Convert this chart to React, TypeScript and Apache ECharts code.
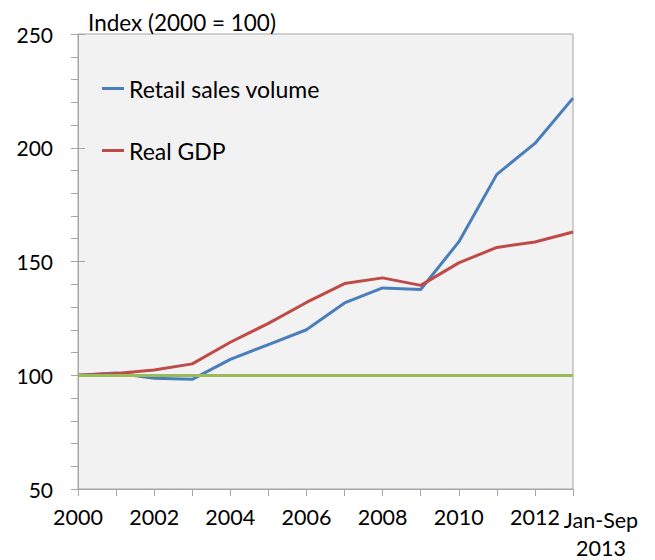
import React, { useEffect, useRef } from "react";
import * as echarts from "echarts";

const categories = ["2000", "2001", "2002", "2003", "2004", "2005", "2006", "2007", "2008", "2009", "2010", "2011", "2012", "Jan-Sep 2013"];
const retailSales = [100, 101, 98.7, 98.2, 107, 113.5, 120, 131.8, 138.4, 137.7, 158.6, 188.3, 201.9, 221.8];
const realGDP = [100, 100.8, 102.3, 105, 114.5, 122.8, 132, 140.3, 142.8, 139.5, 149.4, 156.2, 158.6, 163];
const baseline = 100;
const yTicks = { min: 50, max: 250, interval: 50 };

const FONT = "Lato";

export default function App() {
  const ref = useRef<HTMLDivElement>(null);
  useEffect(() => {
    const chart = echarts.init(ref.current!, null, { renderer: "svg" });
    const axisGray = "#a6a6a6";
    const last = categories.length - 1;
    chart.setOption({
      animation: false,
      textStyle: { fontFamily: FONT, color: "#000" },
      title: {
        text: "Index (2000 = 100)",
        left: 83,
        top: 6,
        textStyle: { fontFamily: FONT, fontSize: 22.5, fontWeight: "normal", color: "#000" },
      },
      legend: {
        orient: "vertical",
        left: 97,
        top: 72,
        itemWidth: 22,
        itemHeight: 3,
        itemGap: 39,
        icon: "rect",
        textStyle: { fontFamily: FONT, fontSize: 23, color: "#000" },
        data: ["Retail sales volume", "Real GDP"],
      },
      grid: {
        left: 78,
        right: 82,
        top: 34,
        bottom: 71,
        show: true,
        backgroundColor: "#f2f2f2",
        borderColor: axisGray,
        borderWidth: 1,
      },
      xAxis: [
        {
          type: "category",
          boundaryGap: false,
          data: categories,
          axisLine: { lineStyle: { color: axisGray } },
          axisTick: { show: true, length: 7, interval: 0, lineStyle: { color: axisGray } },
          axisLabel: {
            interval: (i: number) => i % 2 === 0,
            showMaxLabel: true,
            showMinLabel: true,
            margin: 17,
            fontFamily: FONT,
            fontSize: 21.5,
            color: "#000",
          },
          splitLine: { show: false },
        },
        {
          type: "category",
          position: "bottom",
          boundaryGap: false,
          data: categories,
          axisLine: { show: false },
          axisTick: { show: false },
          axisLabel: {
            interval: (i: number) => i === last,
            showMaxLabel: true,
            showMinLabel: true,
            margin: 17,
            fontFamily: FONT,
            fontSize: 21.5,
            color: "#000",
            formatter: (value: string) => {
              const parts = value.split(" ");
              return `{l|${parts[0]}}\n{l|${parts[1]}}`;
            },
            rich: {
              l: {
                fontFamily: FONT,
                fontSize: 21.5,
                color: "#000",
                width: 77,
                align: "center",
                lineHeight: 28,
                padding: [0, 0, 0, 56],
              },
            },
          },
          splitLine: { show: false },
        },
      ],
      yAxis: [
        {
          type: "value",
          min: yTicks.min,
          max: yTicks.max,
          interval: yTicks.interval,
          axisLine: { show: true, lineStyle: { color: axisGray } },
          axisTick: { show: true, length: 7, lineStyle: { color: axisGray } },
          minorTick: { show: true, splitNumber: 5, length: 7, lineStyle: { color: axisGray } },
          axisLabel: { margin: 25, fontFamily: FONT, fontSize: 21, color: "#000" },
          splitLine: { show: false },
        },
        {
          type: "value",
          position: "left",
          min: yTicks.min,
          max: yTicks.max,
          interval: yTicks.interval,
          axisLine: { show: false },
          axisTick: { show: true, inside: true, length: 7, lineStyle: { color: axisGray } },
          axisLabel: { show: false },
          splitLine: { show: false },
        },
      ],
      series: [
        {
          name: "Retail sales volume",
          type: "line",
          data: retailSales,
          symbol: "none",
          color: "#4a7ebb",
          lineStyle: { width: 3, color: "#4a7ebb" },
        },
        {
          name: "Real GDP",
          type: "line",
          data: realGDP,
          symbol: "none",
          color: "#be4b48",
          lineStyle: { width: 3, color: "#be4b48" },
          markLine: {
            silent: true,
            symbol: "none",
            label: { show: false },
            lineStyle: { color: "#9bbb59", width: 3, type: "solid" },
            data: [{ yAxis: baseline }],
          },
        },
      ],
    });
    return () => chart.dispose();
  }, []);
  return <div ref={ref} style={{ width: 655, height: 560, marginLeft: -8, marginTop: -8 }} />;
}
